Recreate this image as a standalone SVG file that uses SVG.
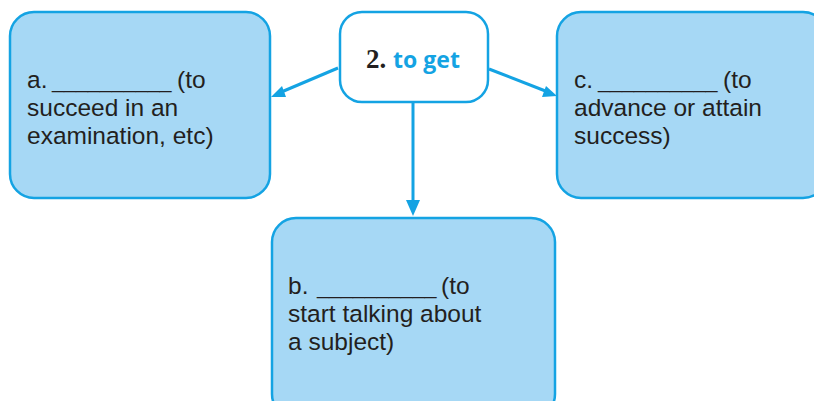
<svg xmlns="http://www.w3.org/2000/svg" width="814" height="401" viewBox="0 0 814 401">
<defs>
<style>
.box{fill:#a6d8f5;stroke:#14a3e3;stroke-width:2.5}
.ctr{fill:#ffffff;stroke:#14a3e3;stroke-width:2.5}
.t{font-family:"Liberation Sans",Arial,sans-serif;font-size:24.5px;fill:#231f20}
.u{font-family:"Liberation Sans",Arial,sans-serif;font-size:21.5px;fill:#231f20}
.edge{stroke:#14a3e3;stroke-width:3;fill:none}
</style>
</defs>
<g id="connectors">
<line class="edge" x1="338" y1="68" x2="279" y2="93"/>
<path d="M271,97 L282,86 L286,97 z" fill="#14a3e3"/>
<line class="edge" x1="489" y1="69" x2="548" y2="92"/>
<path d="M557,96 L542,97 L546,86 z" fill="#14a3e3"/>
<line class="edge" x1="413" y1="103" x2="413" y2="204"/>
<path d="M413,216 L406,200 L420,200 z" fill="#14a3e3"/>
</g>
<g id="node-a">
<rect class="box" x="10" y="12" width="260" height="186" rx="24"/>
<text class="t" x="27" y="88">a.</text>
<text class="u" x="52" y="88">__________</text>
<text class="t" x="177" y="88">(to</text>
<text class="t" x="27" y="116">succeed in an</text>
<text class="t" x="27" y="144">examination, etc)</text>
</g>
<g id="node-center">
<rect class="ctr" x="340" y="12" width="148" height="90" rx="22"/>
<text x="413" y="68" text-anchor="middle" font-weight="bold"><tspan font-family="'Liberation Serif',serif" font-size="27" fill="#231f20">2. </tspan><tspan font-family="'Open Sans','Liberation Sans',sans-serif" font-size="23" fill="#14a3e3">to get</tspan></text>
</g>
<g id="node-c">
<rect class="box" x="557" y="12" width="270" height="186" rx="24"/>
<text class="t" x="574" y="88">c.</text>
<text class="u" x="598" y="88">__________</text>
<text class="t" x="723" y="88">(to</text>
<text class="t" x="574" y="116">advance or attain</text>
<text class="t" x="574" y="144">success)</text>
</g>
<g id="node-b">
<rect class="box" x="272" y="218" width="283" height="200" rx="24"/>
<text class="t" x="288" y="294">b.</text>
<text class="u" x="317" y="294">__________</text>
<text class="t" x="441" y="294">(to</text>
<text class="t" x="288" y="322">start talking about</text>
<text class="t" x="288" y="350">a subject)</text>
</g>
</svg>
